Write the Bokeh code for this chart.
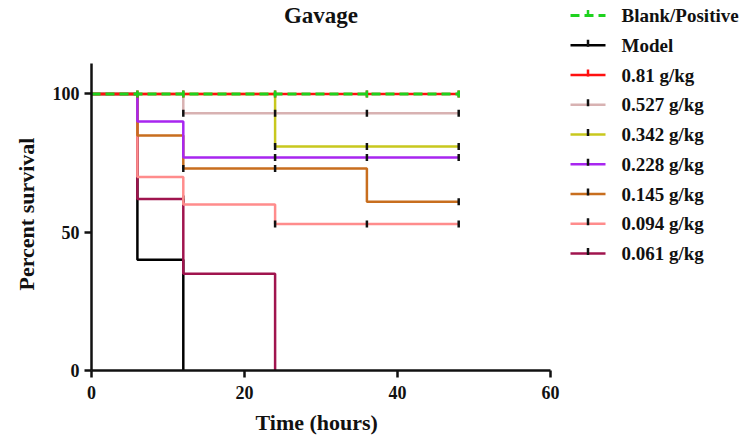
import math
from bokeh.plotting import figure
from bokeh.models import ColumnDataSource, FixedTicker, Range1d, Label, Title
from bokeh.core.properties import value
from bokeh.embed import file_html
from bokeh.resources import INLINE

# ---- data ----
names = ["Blank/Positive", "Model", "0.81 g/kg", "0.527 g/kg", "0.342 g/kg",
         "0.228 g/kg", "0.145 g/kg", "0.094 g/kg", "0.061 g/kg"]
colors = ["#1ED21E", "#000000", "#FF1010", "#D8B2B2", "#C8C81E",
          "#A826F0", "#C86E1E", "#FF8C8C", "#A0144E"]

blank_t = [0, 48];             blank_s = [100, 100]
model_t = [0, 6, 12];          model_s = [100, 40, 0]
g081_t = [0, 48];              g081_s = [100, 100]
g0527_t = [0, 12, 48];         g0527_s = [100, 93, 93]
g0342_t = [0, 24, 48];         g0342_s = [100, 81, 81]
g0228_t = [0, 6, 12, 48];      g0228_s = [100, 90, 77, 77]
g0145_t = [0, 6, 12, 36, 48];  g0145_s = [100, 85, 73, 61, 61]
g0094_t = [0, 6, 12, 24, 48];  g0094_s = [100, 70, 60, 53, 53]
g0061_t = [0, 6, 12, 24];      g0061_s = [100, 62, 35, 0]

# censored observations (tick marks)
blank_ct = [6, 12, 24, 36, 48];  blank_cs = [100, 100, 100, 100, 100]
model_ct = [];                   model_cs = []
g081_ct = [6, 12, 24, 36, 48];   g081_cs = [100, 100, 100, 100, 100]
g0527_ct = [12, 24, 36, 48];     g0527_cs = [93, 93, 93, 93]
g0342_ct = [24, 36, 48];         g0342_cs = [81, 81, 81]
g0228_ct = [24, 36, 48];         g0228_cs = [77, 77, 77]
g0145_ct = [12, 24, 48];         g0145_cs = [73, 73, 61]
g0094_ct = [24, 36, 48];         g0094_cs = [53, 53, 53]
g0061_ct = [12];                 g0061_cs = [62]

x_ticks = [0, 20, 40, 60]
y_ticks = [0, 50, 100]
x_axis_max = 60
y_axis_max = 111

curves = [(blank_t, blank_s, blank_ct, blank_cs),
          (model_t, model_s, model_ct, model_cs),
          (g081_t, g081_s, g081_ct, g081_cs),
          (g0527_t, g0527_s, g0527_ct, g0527_cs),
          (g0342_t, g0342_s, g0342_ct, g0342_cs),
          (g0228_t, g0228_s, g0228_ct, g0228_cs),
          (g0145_t, g0145_s, g0145_ct, g0145_cs),
          (g0094_t, g0094_s, g0094_ct, g0094_cs),
          (g0061_t, g0061_s, g0061_ct, g0061_cs)]

FONT = "Liberation Serif"
TXT = "#111111"

# ---- layout (pixels) ----
W, H = 750, 443
LEFT, BOTTOM = 91, 73
AX_RIGHT_PX, AX_TOP_PX = 550, 63          # where the axes end
frame_w = W - LEFT
frame_h = H - BOTTOM
px_per_x = (AX_RIGHT_PX - LEFT) / x_axis_max
px_per_y = (frame_h - AX_TOP_PX) / y_axis_max

def dx(px):   # canvas px -> data x
    return (px - LEFT) / px_per_x

def dy(py):   # canvas py -> data y
    return (frame_h - py) / px_per_y

p = figure(width=W, height=H, output_backend="svg", toolbar_location=None,
           x_range=Range1d(0, frame_w / px_per_x),
           y_range=Range1d(0, frame_h / px_per_y),
           min_border_left=LEFT, min_border_right=0, min_border_top=0,
           min_border_bottom=BOTTOM)
p.outline_line_color = None
p.xgrid.visible = False
p.ygrid.visible = False

for ax in (p.xaxis[0], p.yaxis[0]):
    ax.axis_line_width = 2.5
    ax.axis_line_color = TXT
    ax.major_tick_line_width = 2.5
    ax.major_tick_line_color = TXT
    ax.major_tick_out = 7
    ax.major_tick_in = 0
    ax.minor_tick_line_color = None
    ax.major_label_text_font = FONT
    ax.major_label_text_font_style = "bold"
    ax.major_label_text_font_size = "18px"
    ax.major_label_text_color = TXT

p.xaxis[0].bounds = (0, x_axis_max)
p.yaxis[0].bounds = (0, y_axis_max)
p.xaxis[0].ticker = FixedTicker(ticks=x_ticks)
p.yaxis[0].ticker = FixedTicker(ticks=y_ticks)
p.xaxis[0].major_label_standoff = 8
p.yaxis[0].major_label_standoff = 5

# axis titles (placed along the axes' own extent)
xlab = Title(text="Time (hours)", align="left", offset=164, standoff=12,
             text_font=FONT, text_font_style="bold", text_font_size="22px",
             text_color=TXT)
ylab = Title(text="Percent survival", align="left", offset=80, standoff=22,
             text_font=FONT, text_font_style="bold", text_font_size="22px",
             text_color=TXT)
p.add_layout(xlab, "below")
p.add_layout(ylab, "left")

# chart title
p.add_layout(Label(x=x_axis_max / 2, y=dy(15), text="Gavage",
                   text_font=FONT, text_font_style="bold", text_font_size="23px",
                   text_color=TXT, text_align="center", text_baseline="middle"))

def style(i):
    kw = dict(line_width=2.5, line_color=colors[i])
    if i == 0:
        kw["line_dash"] = "9 5"
        kw["line_width"] = 3
    return kw

def tick_color(i):
    return colors[i] if i in (0, 2) else TXT

# survival curves
draw_order = [1, 8, 7, 6, 5, 4, 3, 2, 0]
for i in draw_order:
    t, s, ct, cs = curves[i]
    p.step(x=t, y=s, mode="after", **style(i))
    src = ColumnDataSource(dict(x=ct, y=cs))
    p.scatter(x="x", y="y", source=src, marker="dash", size=7,
              angle=math.pi / 2, line_color=tick_color(i), line_width=2.5)

# legend (drawn in the free area right of the axes)
LG_X0, LG_X1, LG_TXT = 570, 605, 621
LG_Y0, LG_DY = 15, 29.75
for k in range(len(names)):
    py = LG_Y0 + LG_DY * k
    p.line(x=[dx(LG_X0), dx(LG_X1)], y=[dy(py), dy(py)], **style(k))
    p.scatter(x=[dx((LG_X0 + LG_X1) / 2)], y=[dy(py - 2)], marker="dash", size=7,
              angle=math.pi / 2, line_color=tick_color(k), line_width=2.5)
p.text(x=[dx(LG_TXT)] * len(names), y=[dy(LG_Y0 + LG_DY * k) for k in range(len(names))],
       text=names, text_font=value(FONT), text_font_style="bold",
       text_font_size="19px", text_color=TXT, text_align="left",
       text_baseline="middle")

open("out.html", "w").write(file_html(p, INLINE))
